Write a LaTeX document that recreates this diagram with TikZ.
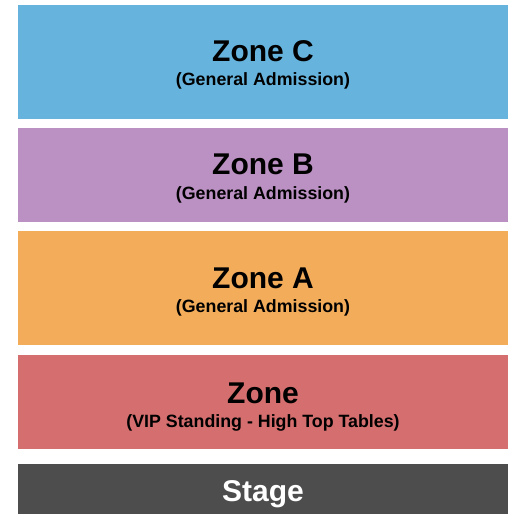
\documentclass[tikz,border=0pt]{standalone}
\usepackage{fontspec}
\setmainfont{Liberation Sans}
\usetikzlibrary{positioning}

\definecolor{zoneblue}{RGB}{102,180,221}
\definecolor{zonepurple}{RGB}{187,144,194}
\definecolor{zoneorange}{RGB}{242,172,90}
\definecolor{zonered}{RGB}{213,110,110}
\definecolor{stagegray}{RGB}{77,77,77}
\tikzstyle{zone} = [rectangle, inner sep=0pt, minimum width=490pt]

\begin{document}
\begin{tikzpicture}[x=1pt,y=-1pt,
			title/.style = {anchor=base, font=\fontsize{30}{34}\selectfont\bfseries},
			sub/.style = {anchor=base, font=\fontsize{17.8}{21}\selectfont\bfseries}]
			\useasboundingbox (0,0) rectangle (525,525);
			% seating zones, back to front
			\node (C)[zone, fill=zoneblue, minimum height=114pt] at (263,62) {};
			\node (B)[zone, fill=zonepurple, minimum height=94pt] at (263,175) {};
			\node (A)[zone, fill=zoneorange, minimum height=114pt] at (263,288) {};
			\node (V)[zone, fill=zonered, minimum height=94pt] at (263,402) {};
			\node (S)[zone, fill=stagegray, minimum height=50pt] at (263,489) {};
			
			\node (Ct)[title] at ([yshift=1pt]C.center) {Zone C};
			\node (Cs)[sub] at ([yshift=-23pt]C.center) {(General Admission)};
			\node (Bt)[title] at ([yshift=1pt]B.center) {Zone B};
			\node (Bs)[sub] at ([yshift=-24pt]B.center) {(General Admission)};
			\node (At)[title] at ([yshift=0pt]A.center) {Zone A};
			\node (As)[sub] at ([yshift=-24pt]A.center) {(General Admission)};
			\node (Vt)[title] at ([yshift=-1pt]V.center) {Zone};
			\node (Vs)[sub] at ([yshift=-25pt]V.center) {(VIP Standing - High Top Tables)};
			\node (St)[title, text=white] at ([yshift=-12pt]S.center) {Stage};
		\end{tikzpicture}
\end{document}
